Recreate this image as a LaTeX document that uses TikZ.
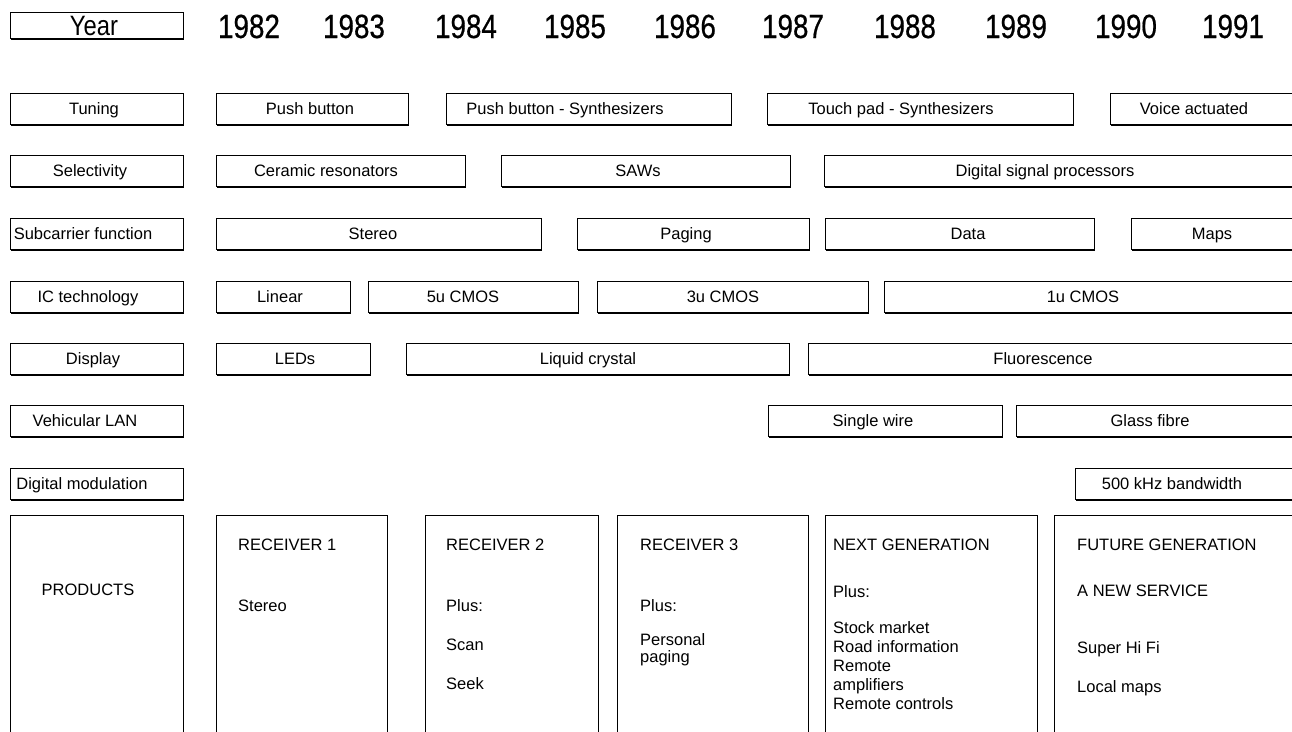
\documentclass[tikz,border=0pt]{standalone}
\usepackage{fontspec}
\setmainfont{Liberation Sans}
\newfontfamily\yearfont{Liberation Sans}[FakeStretch=0.83, FakeBold=0.6]
\newfontfamily\narrowfont{Liberation Sans}[FakeStretch=0.85]
\usetikzlibrary{shadows}
\tikzset{
  box/.style={draw=black, line width=1.1pt, fill=white, inner sep=0pt, anchor=north west,
    drop shadow={shadow xshift=0.7pt, shadow yshift=-1.3pt, opacity=1, fill=black}},
  pbox/.style={draw=black, line width=1.1pt, fill=white, inner sep=0pt, anchor=north west},
  lbl/.style={inner sep=0pt, font=\fontsize{16.5}{19.5}\selectfont, text height=11.8pt, text depth=0pt},
  plbl/.style={lbl, anchor=west},
  yr/.style={inner sep=0pt, font=\yearfont\fontsize{33.5}{36}\selectfont, text height=24pt, text depth=0pt},
}
\newcommand\bx[6]{%
  \node[box, minimum width=#3pt-#2pt, minimum height=31pt] (#1) at (#2,#4) {};
  \node[lbl] (#1t) at (#5,#4+15.5) {#6};}
\newcommand\pbx[3]{%
  \node[pbox, minimum width=#3pt-#2pt, minimum height=240pt] (#1) at (#2,515) {};}
\begin{document}
\begin{tikzpicture}[x=1pt,y=-1pt]
\useasboundingbox (0,0) rectangle (1292,731);
\clip (0,0) rectangle (1292,731);
% Year row
\node[box, minimum width=173pt, minimum height=26pt] (yearbox) at (10,12) {};
\node[inner sep=0pt, font=\narrowfont\fontsize{28}{30}\selectfont, text height=20pt, text depth=0pt] (yeart) at (94,25) {Year};
\node[yr] (y1982) at (249,26) {1982};
\node[yr] (y1983) at (354,26) {1983};
\node[yr] (y1984) at (466,26) {1984};
\node[yr] (y1985) at (575,26) {1985};
\node[yr] (y1986) at (685,26) {1986};
\node[yr] (y1987) at (793,26) {1987};
\node[yr] (y1988) at (905,26) {1988};
\node[yr] (y1989) at (1016,26) {1989};
\node[yr] (y1990) at (1126,26) {1990};
\node[yr] (y1991) at (1233,26) {1991};
% Tuning
\bx{tun}{10}{183}{93}{94}{Tuning}
\bx{pb}{216}{408}{93}{310}{Push button}
\bx{pbs}{446}{731}{93}{565}{Push button - Synthesizers}
\bx{tp}{767}{1073}{93}{901}{Touch pad - Synthesizers}
\bx{va}{1110}{1300}{93}{1194}{Voice actuated}
% Selectivity
\bx{sel}{10}{183}{155}{90}{Selectivity}
\bx{cer}{216}{465}{155}{326}{Ceramic resonators}
\bx{saw}{501}{790}{155}{638}{SAWs}
\bx{dsp}{824}{1300}{155}{1045}{Digital signal processors}
% Subcarrier
\bx{sub}{10}{183}{218}{83}{Subcarrier function}
\bx{ste}{216}{541}{218}{373}{Stereo}
\bx{pag}{577}{809}{218}{686}{Paging}
\bx{dat}{825}{1094}{218}{968}{Data}
\bx{map}{1131}{1300}{218}{1212}{Maps}
% IC technology
\bx{ic}{10}{183}{281}{88}{IC technology}
\bx{lin}{216}{350}{281}{280}{Linear}
\bx{cfive}{368}{578}{281}{463}{5u CMOS}
\bx{cthree}{597}{868}{281}{723}{3u CMOS}
\bx{cone}{884}{1300}{281}{1083}{1u CMOS}
% Display
\bx{dis}{10}{183}{343}{93}{Display}
\bx{led}{216}{370}{343}{295}{LEDs}
\bx{lcd}{406}{789}{343}{588}{Liquid crystal}
\bx{flu}{808}{1300}{343}{1043}{Fluorescence}
% Vehicular LAN
\bx{lan}{10}{183}{405}{85}{Vehicular LAN}
\bx{sw}{768}{1002}{405}{873}{Single wire}
\bx{gf}{1016}{1300}{405}{1150}{Glass fibre}
% Digital modulation
\bx{dm}{10}{183}{468}{82}{Digital modulation}
\bx{bw}{1075}{1300}{468}{1172}{500 kHz bandwidth}
% Products
\pbx{prod}{10}{183}
\pbx{rone}{216}{387}
\pbx{rtwo}{425}{598}
\pbx{rthree}{617}{808}
\pbx{ng}{825}{1037}
\pbx{fg}{1054}{1300}
\node[lbl] (prodt) at (88,590) {PRODUCTS};
\node[plbl] (r1a) at (238,545) {RECEIVER 1};
\node[plbl] (r1b) at (238,606) {Stereo};
\node[plbl] (r2a) at (446,545) {RECEIVER 2};
\node[plbl] (r2b) at (446,606) {Plus:};
\node[plbl] (r2c) at (446,645) {Scan};
\node[plbl] (r2d) at (446,684) {Seek};
\node[plbl] (r3a) at (640,545) {RECEIVER 3};
\node[plbl] (r3b) at (640,606) {Plus:};
\node[plbl] (r3c) at (640,640) {Personal};
\node[plbl] (r3d) at (640,657) {paging};
\node[plbl] (nga) at (833,545) {NEXT GENERATION};
\node[plbl] (ngb) at (833,592) {Plus:};
\node[plbl] (ngc) at (833,628) {Stock market};
\node[plbl] (ngd) at (833,647) {Road information};
\node[plbl] (nge) at (833,666) {Remote};
\node[plbl] (ngf) at (833,685) {amplifiers};
\node[plbl] (ngg) at (833,704) {Remote controls};
\node[plbl] (fga) at (1077,545) {FUTURE GENERATION};
\node[plbl] (fgb) at (1077,591) {A NEW SERVICE};
\node[plbl] (fgc) at (1077,648) {Super Hi Fi};
\node[plbl] (fgd) at (1077,687) {Local maps};
\end{tikzpicture}
\end{document}
